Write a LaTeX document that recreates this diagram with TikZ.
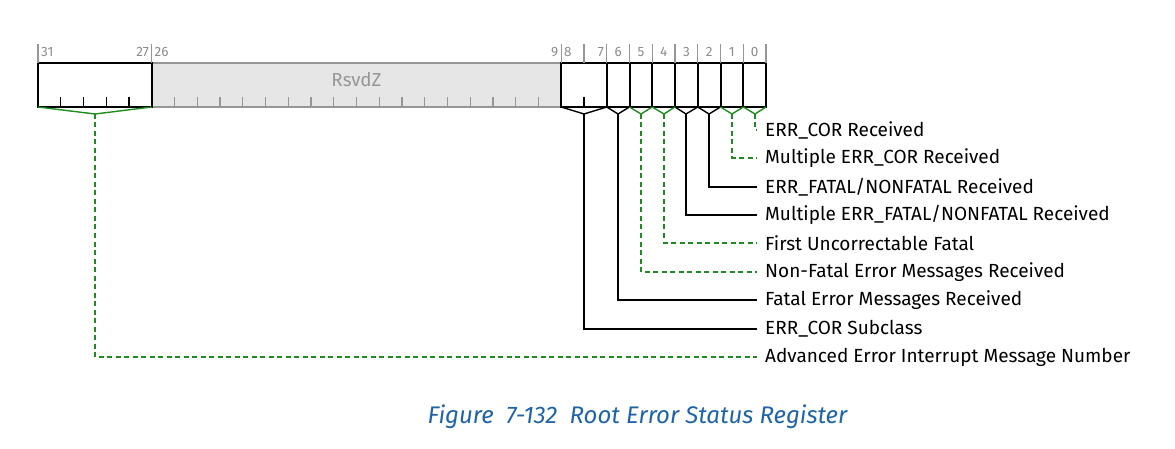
\documentclass[tikz,border=0pt]{standalone}
\usepackage{fontspec}
\setmainfont{Fira Sans}
\definecolor{grn}{RGB}{30,140,30}
\definecolor{numgray}{RGB}{140,140,140}
\definecolor{rsvgray}{RGB}{150,150,150}
\definecolor{rsvfill}{RGB}{230,230,230}
\definecolor{capblue}{RGB}{30,100,170}
\begin{document}
\begin{tikzpicture}[x=1pt,y=-1pt,
  field/.style={draw, line width=2pt, minimum height=44pt, inner sep=0pt, outer sep=0pt, anchor=north west},
  rsvd/.style={field, draw=rsvgray, fill=rsvfill},
  sep/.style={draw=rsvgray, line width=1.3pt},
  tickb/.style={line width=1.3pt},
  tickg/.style={line width=1.3pt, draw=rsvgray},
  brace/.style={line width=1.4pt},
  gbrace/.style={brace, draw=grn},
  conn/.style={line width=1.4pt},
  gconn/.style={conn, draw=grn, dash pattern=on 5pt off 3.5pt},
  lbl/.style={anchor=west, inner xsep=8pt, inner ysep=0pt, font=\fontsize{19}{22}\selectfont},
  bitnum/.style={text=numgray, font=\fontsize{13.5}{16}\selectfont, inner sep=0pt}
]
\useasboundingbox (0,0) rectangle (1175,449);
% fields
\node[rsvd, minimum width=409.5pt] (rsvd) at (151.75,63) {};
\node[text=rsvgray, font=\fontsize{18.8}{22}\selectfont] (rsvdtxt) at (356.5,80) {RsvdZ};
\foreach \k in {10,...,26} \draw[tickg] (766-\k*22.75,97) -- (766-\k*22.75,107);
\node[field, minimum width=113.75pt] (f31) at (38,63) {};
\foreach \k in {28,...,31} \draw[tickb] (766-\k*22.75,97) -- (766-\k*22.75,107);
\node[field, minimum width=45.5pt] (f87) at (561.25,63) {};
\draw[tickb] (766-8*22.75,97) -- (766-8*22.75,107);
\foreach \i in {0,...,6} {
  \node[field, minimum width=22.75pt] (b\i) at ({766-(\i+1)*22.75},63) {};
}
% separators
\foreach \k in {0,...,9,27,32} \draw[sep] (766-\k*22.75,44) -- (766-\k*22.75,63);
% bit numbers
\node[bitnum, anchor=west] (n31) at (41,52) {31};
\node[bitnum, anchor=east] (n27) at (149,52) {27};
\node[bitnum, anchor=west] (n26) at (154.5,52) {26};
\node[bitnum, anchor=east] (n9) at (558.5,52) {9};
\node[bitnum, anchor=west] (n8) at (564,52) {8};
\node[bitnum, anchor=east] (n7) at (604,52) {7};
\foreach \i in {0,...,6} \node[bitnum] (n\i) at ({766-(\i+0.5)*22.75},52) {\i};
% apex points
\coordinate (a31) at (95,114);
\coordinate (a87) at (584,114);
\coordinate (a0) at (755,114);
\coordinate (a1) at (732,114);
\coordinate (a2) at (709,114);
\coordinate (a3) at (686,114);
\coordinate (a4) at (664,114);
\coordinate (a5) at (641,114);
\coordinate (a6) at (618,114);
% braces
\draw[gbrace] (f31.south west) -- (a31) -- (f31.south east);
\draw[brace] (f87.south west) -- (a87) -- (f87.south east);
\foreach \i in {2,3,6} \draw[brace] (b\i.south west) -- (a\i) -- (b\i.south east);
\foreach \i in {0,1,4,5} \draw[gbrace] (b\i.south west) -- (a\i) -- (b\i.south east);
% labels
\node[lbl] (l0) at (757,130) {ERR\_COR Received};
\node[lbl] (l1) at (757,158) {Multiple ERR\_COR Received};
\node[lbl] (l2) at (757,187) {ERR\_FATAL/NONFATAL Received};
\node[lbl] (l3) at (757,215) {Multiple ERR\_FATAL/NONFATAL Received};
\node[lbl] (l4) at (757,243) {First Uncorrectable Fatal};
\node[lbl] (l5) at (757,272) {Non-Fatal Error Messages Received};
\node[lbl] (l6) at (757,300) {Fatal Error Messages Received};
\node[lbl] (l87) at (757,329) {ERR\_COR Subclass};
\node[lbl] (l31) at (757,357) {Advanced Error Interrupt Message Number};
% connectors
\foreach \i in {0,1,4,5} \draw[gconn] (a\i) |- (l\i.west);
\foreach \i in {2,3,6} \draw[conn] (a\i) |- (l\i.west);
\draw[conn] (a87) |- (l87.west);
\draw[gconn] (a31) |- (l31.west);
% caption
\node[text=capblue, font=\itshape\fontsize{24}{28}\selectfont] (cap) at (637.5,417) {Figure\ \ 7-132\ \ Root Error Status Register};
\end{tikzpicture}
\end{document}
